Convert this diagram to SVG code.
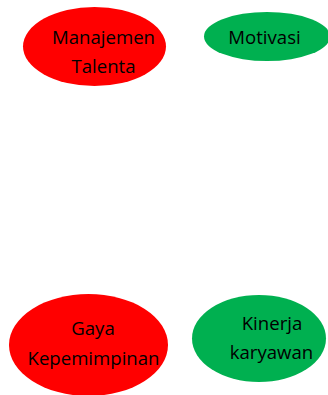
<svg xmlns="http://www.w3.org/2000/svg" width="328" height="395" viewBox="0 0 328 395">
  <style>
    .red { fill: #ff0000; }
    .green { fill: #00b050; }
    text { font-family: "Open Sans", "Noto Sans", sans-serif; font-size: 18.6px; fill: #000; text-anchor: middle; }
  </style>
  <rect width="328" height="395" fill="#fff"/>
  <g id="connectors"></g>
  <g id="manajemen-talenta">
    <ellipse class="red" cx="94.5" cy="46.5" rx="71.5" ry="39.5"/>
    <text x="103.5" y="43.5">Manajemen</text>
    <text x="103.5" y="73">Talenta</text>
  </g>
  <g id="motivasi">
    <ellipse class="green" cx="267" cy="36.5" rx="63" ry="24.5"/>
    <text x="264.5" y="43.5">Motivasi</text>
  </g>
  <g id="gaya-kepemimpinan">
    <ellipse class="red" cx="88.5" cy="345" rx="79.5" ry="51"/>
    <text x="93" y="335">Gaya</text>
    <text x="93.5" y="365">Kepemimpinan</text>
  </g>
  <g id="kinerja-karyawan">
    <ellipse class="green" cx="259" cy="338.5" rx="67" ry="43.5"/>
    <text x="272" y="330">Kinerja</text>
    <text x="271.5" y="359">karyawan</text>
  </g>
</svg>
